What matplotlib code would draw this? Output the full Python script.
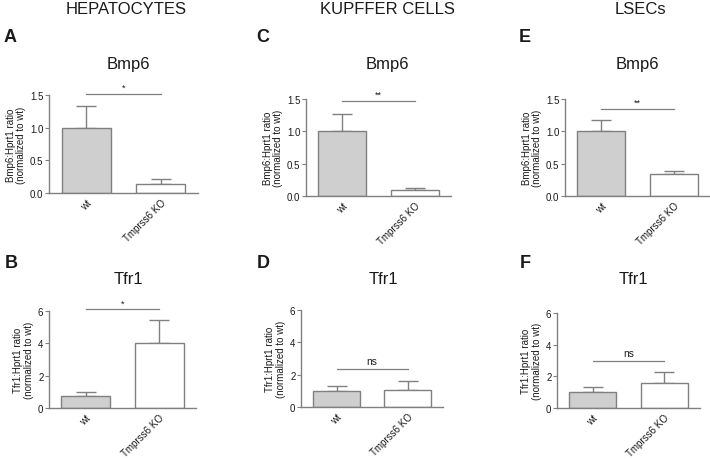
import matplotlib
matplotlib.use("Agg")
import matplotlib.pyplot as plt

plt.rcParams['font.family'] = ['Liberation Sans', 'DejaVu Sans']

groups = ["wt", "Tmprss6 KO"]
columns = ["HEPATOCYTES", "KUPFFER CELLS", "LSECs"]
letters_top = ["A", "C", "E"]
letters_bot = ["B", "D", "F"]

bmp6_mean = [[1.0, 0.14], [1.0, 0.10], [1.0, 0.34]]
bmp6_err = [[0.33, 0.07], [0.27, 0.03], [0.17, 0.04]]
bmp6_sig = ["*", "**", "**"]
bmp6_sig_y = [1.52, 1.47, 1.35]

tfr1_mean = [[0.75, 4.05], [1.0, 1.08], [1.0, 1.58]]
tfr1_err = [[0.25, 1.40], [0.28, 0.52], [0.30, 0.72]]
tfr1_sig = ["*", "ns", "ns"]
tfr1_sig_y = [6.1, 2.35, 2.97]

W, H = 710, 460
fig = plt.figure(figsize=(W / 100, H / 100), dpi=100)

def px_axes(x0, x1, ytop, ybot):
    return fig.add_axes([x0 / W, 1 - ybot / H, (x1 - x0) / W, (ybot - ytop) / H])

EDGE = "#808080"
FILL = "#cfcfcf"
TXT = "#1a1a1a"

def draw(ax, means, errs, ymax, yticks, yticklabels, sig, sig_y, ylabel):
    xs = [0, 1]
    ax.errorbar(xs, means, yerr=[[0, 0], errs], fmt="none", ecolor=EDGE,
                elinewidth=1.0, capsize=7.5, capthick=1.0, zorder=1)
    ax.bar(xs, means, width=0.66, color=[FILL, "white"], edgecolor=EDGE,
           linewidth=1.0, zorder=2)
    ax.set_xlim(-0.5, 1.5)
    ax.set_ylim(0, ymax)
    ax.set_yticks(yticks)
    ax.set_yticklabels(yticklabels, fontsize=7, color=TXT)
    ax.set_xticks(xs)
    ax.set_xticklabels(groups, rotation=45, ha="right", rotation_mode="anchor",
                       fontsize=7, color=TXT)
    ax.tick_params(axis="y", length=3, width=0.8, color=EDGE, pad=1)
    ax.tick_params(axis="x", length=0, pad=3)
    for s in ("top", "right"):
        ax.spines[s].set_visible(False)
    for s in ("left", "bottom"):
        ax.spines[s].set_color(EDGE)
        ax.spines[s].set_linewidth(1.0)
    ax.plot([0, 1], [sig_y, sig_y], color=EDGE, lw=0.9, clip_on=False)
    off = 0.02 * ymax if sig != "ns" else 0.03 * ymax
    ax.text(0.5, sig_y + off, sig, ha="center", va="bottom",
            fontsize=6.5 if sig != "ns" else 7.3, color=TXT, clip_on=False)
    ax.set_ylabel(ylabel, fontsize=7, color=TXT, labelpad=3, linespacing=1.05)

top_axes = [(49, 198, 96, 194), (306, 451, 100, 197), (565, 710, 100, 197)]
bot_axes = [(49, 196, 312, 409), (301, 443, 311, 408), (557, 700, 314, 409)]

for i in range(3):
    ax = px_axes(*top_axes[i])
    draw(ax, bmp6_mean[i], bmp6_err[i], 1.5, [0, 0.5, 1.0, 1.5],
         ["0.0", "0.5", "1.0", "1.5"], bmp6_sig[i], bmp6_sig_y[i],
         "Bmp6:Hprt1 ratio\n(normalized to wt)")
    ax2 = px_axes(*bot_axes[i])
    draw(ax2, tfr1_mean[i], tfr1_err[i], 6, [0, 2, 4, 6],
         ["0", "2", "4", "6"], tfr1_sig[i], tfr1_sig_y[i],
         "Tfr1:Hprt1 ratio\n(normalized to wt)")

def ftext(x, y, s, **kw):
    fig.text(x / W, 1 - y / H, s, ha="center", va="center", color=TXT, **kw)

col_x = [126, 387, 640]
for x, s in zip(col_x, columns):
    ftext(x, 9, s, fontsize=12)

for x, s in zip([10, 263, 525], letters_top):
    ftext(x, 37, s, fontsize=13, fontweight="bold")
for x, s in zip([11, 263, 525], letters_bot):
    ftext(x, 263, s, fontsize=13, fontweight="bold")

for x in [128, 387, 637]:
    ftext(x, 64, "Bmp6", fontsize=12)
for x in [128, 383, 633]:
    ftext(x, 280, "Tfr1", fontsize=12)

fig.savefig("out.png", dpi=100, facecolor="white")
